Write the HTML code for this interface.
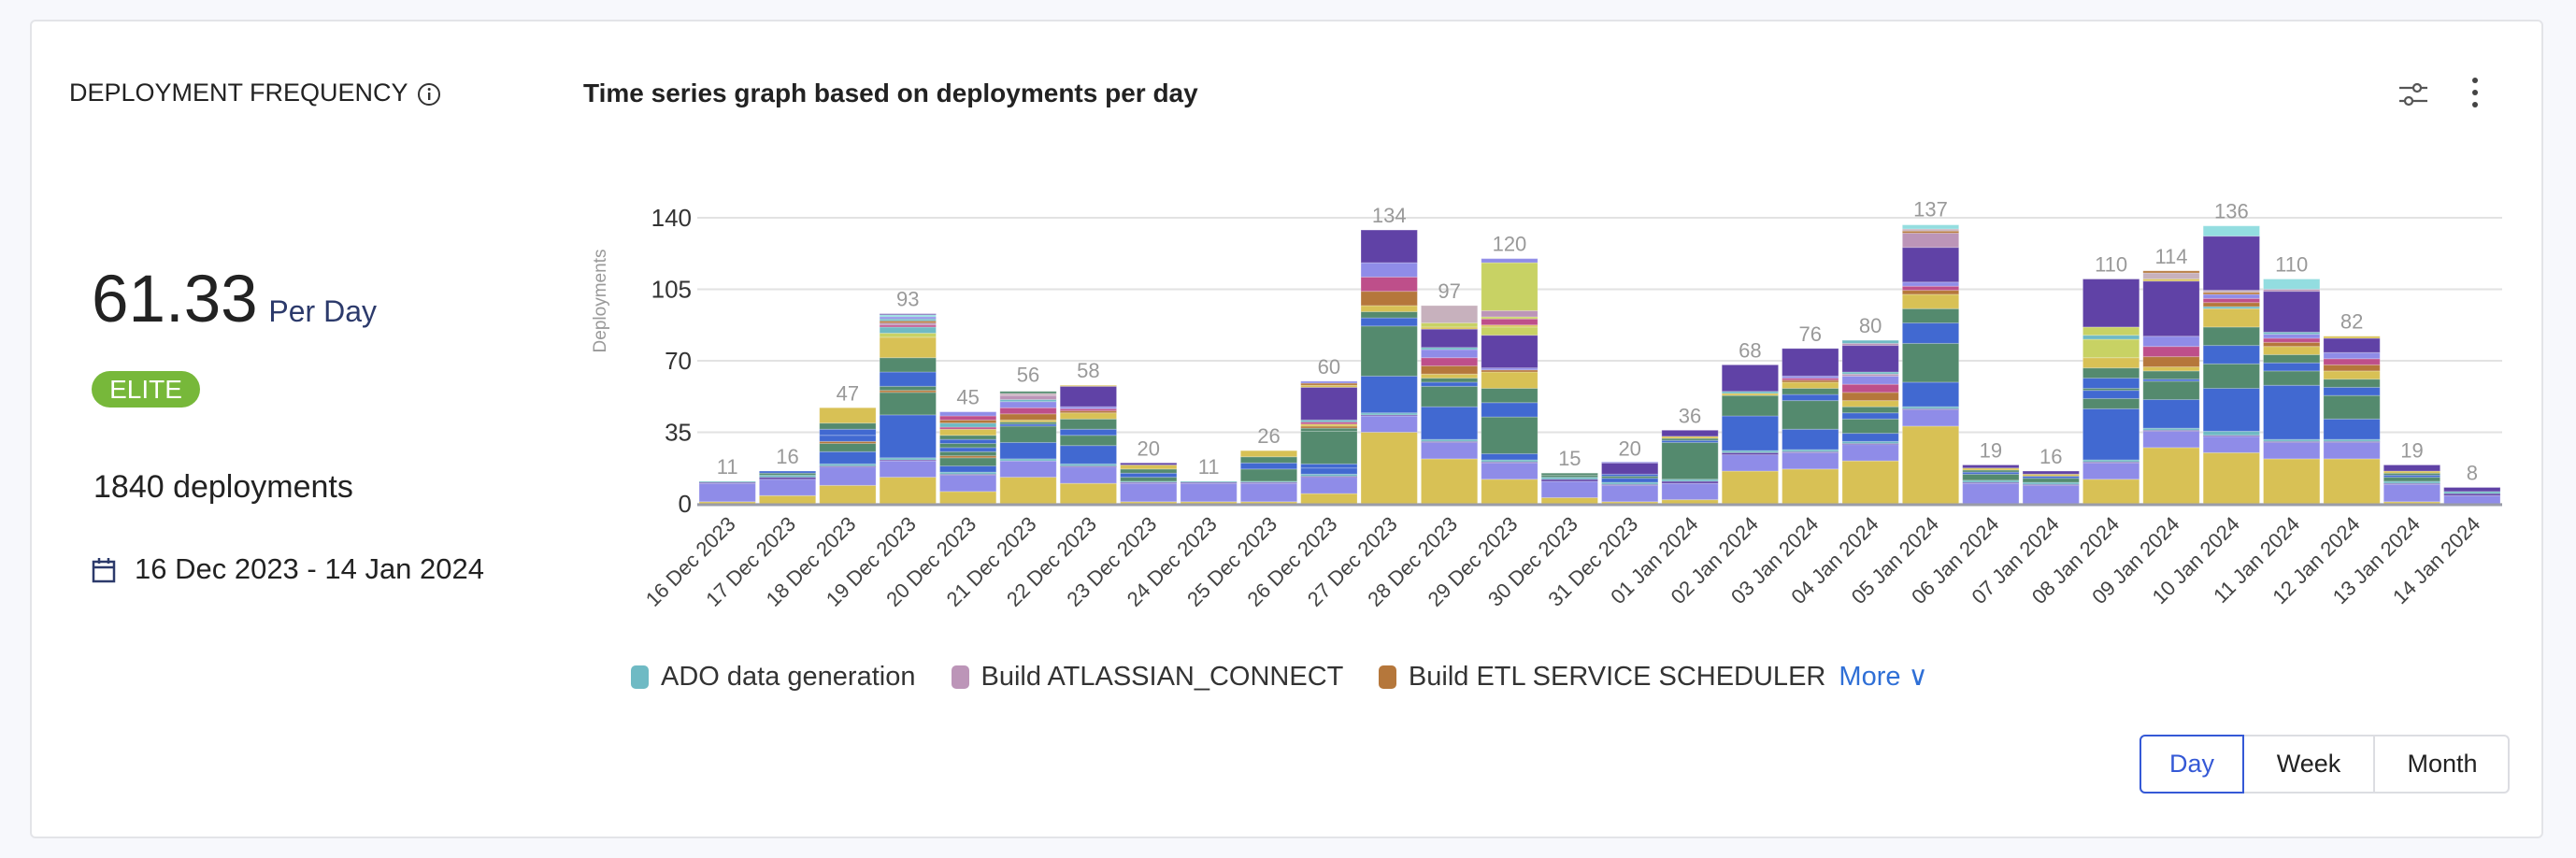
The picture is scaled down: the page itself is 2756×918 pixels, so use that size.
<!DOCTYPE html>
<html><head><meta charset="utf-8"><style>
body{margin:0;width:2756px;height:918px;background:#f7f8fc;font-family:"Liberation Sans",sans-serif;overflow:hidden;position:relative}
.card{position:absolute;left:32px;top:21px;width:2689px;height:876px;background:#fff;border:2px solid #e3e4e8;border-radius:6px;box-sizing:border-box}
.a{position:absolute;white-space:nowrap}
</style></head><body>
<div class="card"></div>
<div class="a" style="left:74px;top:84px;font-size:27px;color:#222;font-weight:500">DEPLOYMENT FREQUENCY</div>
<svg class="a" style="left:446px;top:88px" width="26" height="26"><circle cx="13" cy="13" r="11" fill="none" stroke="#333" stroke-width="2"/><rect x="12" y="11" width="2.4" height="8" fill="#333"/><circle cx="13.2" cy="7.5" r="1.5" fill="#333"/></svg>
<div class="a" style="left:98px;top:280px;font-size:71px;color:#222">61.33 <span style="font-size:32px;color:#2c3a6b;margin-left:-8px">Per Day</span></div>
<div class="a" style="left:98px;top:397px;width:116px;height:39px;border-radius:20px;background:#77b83a;color:#fff;font-size:28px;line-height:39px;text-align:center">ELITE</div>
<div class="a" style="left:100px;top:502px;font-size:34px;color:#222">1840 deployments</div>
<svg class="a" style="left:98px;top:596px" width="26" height="28"><rect x="2" y="5" width="22" height="21" fill="none" stroke="#2c3a6b" stroke-width="2.5"/><line x1="2" y1="11" x2="24" y2="11" stroke="#2c3a6b" stroke-width="2.5"/><line x1="8" y1="1" x2="8" y2="7" stroke="#2c3a6b" stroke-width="2.5"/><line x1="18" y1="1" x2="18" y2="7" stroke="#2c3a6b" stroke-width="2.5"/></svg>
<div class="a" style="left:144px;top:591px;font-size:31px;color:#222">16 Dec 2023 - 14 Jan 2024</div>
<div class="a" style="left:624px;top:84px;font-size:28px;color:#222;font-weight:bold">Time series graph based on deployments per day</div>
<svg class="a" style="left:2565px;top:84px" width="34" height="34" stroke="#555" stroke-width="2.2" fill="#fff"><line x1="2" y1="10" x2="32" y2="10"/><line x1="2" y1="24" x2="32" y2="24"/><circle cx="21" cy="10" r="4"/><circle cx="12" cy="24" r="4"/></svg>
<svg class="a" style="left:2640px;top:80px" width="16" height="40" fill="#444"><circle cx="8" cy="6" r="3"/><circle cx="8" cy="19" r="3"/><circle cx="8" cy="32" r="3"/></svg>
<svg id="ch" class="a" style="left:0;top:0" width="2756" height="918"></svg>
<div class="a" style="left:675px;top:706px;font-size:29px;color:#333">
<span style="display:inline-block;width:19px;height:25px;border-radius:5px;background:#6fbac4;vertical-align:-4px;margin-right:13px"></span>ADO data generation
<span style="display:inline-block;width:19px;height:25px;border-radius:5px;background:#bc95b8;vertical-align:-4px;margin:0 13px 0 30px"></span>Build ATLASSIAN_CONNECT
<span style="display:inline-block;width:19px;height:25px;border-radius:5px;background:#b5773b;vertical-align:-4px;margin:0 13px 0 30px"></span>Build ETL SERVICE SCHEDULER <span style="color:#2f6fd6;margin-left:6px">More ∨</span></div>
<div class="a" style="left:2289px;top:786px;width:396px;height:63px;border:2px solid #dcdde2;border-radius:6px;box-sizing:border-box;font-size:27px;color:#222">
<div class="a" style="left:-2px;top:-2px;width:112px;height:63px;border:2px solid #3559d6;border-radius:6px 0 0 6px;box-sizing:border-box;color:#3559d6;text-align:center;line-height:59px">Day</div>
<div class="a" style="left:110px;top:0;width:138px;height:59px;border-right:2px solid #dcdde2;text-align:center;line-height:59px">Week</div>
<div class="a" style="left:250px;top:0;width:144px;height:59px;text-align:center;line-height:59px">Month</div></div>
<script>
const C={Y:'#d8c155',L:'#8f8ce8',P:'#6042a6',B:'#4169d1',G:'#548a6e',T:'#6fbac4',M:'#be4f8a',O:'#b5773b',K:'#c8d264',R:'#c7b1bd',C:'#93dde0',V:'#bc95b8'};
const D=[
"Y1 L9 P.5 T.5","Y4 L8 P1 T1 G1 B1","Y9 L9 P.5 T1 B6 G4 O1 B3 B3 G3 Y7.5",
"Y13 L8 P.5 T1 B21 G11 O1 G2 B7 G7 Y10 K2 T3 M1 V1 O1 T1 L1 C1 P.5",
"Y6 L8 P.5 T1 B3 G4 O1 G2 B2 G2 B2 G2 Y3 M1 T2 O1.5 M2 L2",
"Y13 L8 T1 B8 G8 B1 G1 Y1 O3 M3 L3 T1 V2 R1 G1",
"Y10 L8 P.5 T1 B9 G5 B3 G5 Y3 O1 M1 L1 P10 Y.5",
"Y1 L9 P.5 T.5 G2 B2 G2 Y2 P1","Y1 L9 P.5 T.5","Y1 L9 P.5 T.5 G6 B3 G3 Y3",
"Y5 L8 P.5 T1 B3 B2 G16 G1.5 O1 Y1 M1 T1 P16 Y1 O1 L1",
"Y35 L8 P.5 T1 B18 G24.5 B4 G3 Y3 O7 M7 L7 P16",
"Y22 L8 P.5 T1 B16 G10 B2 G2 Y2 O4 M4 L4 T1 P9 Y1 K2 R8.5",
"Y12 L8 P.5 T1 B3 G18 B7 G7 Y8 O1 L1 P16 K4 Y1 M3 K1 V3 K23.5 L2",
"Y3 L8 P1 T1 G1 G1","Y1 L8 P.5 T1 B2 G1 B1 P5.5 L.5","Y2 L8 P1 T1 G18 B1 G1 Y1 P3",
"Y16 L8 P1 T1 B17 G10 Y1 T1 P13","Y17 L8 P.5 T1 B10 G14 B3 G3 Y3 O1 M1 L1 P13.5",
"Y21 L8 P.5 T1 B4 G7 B3 G3 Y3 O4 M4 L4 V1 T1 P13 V1 T1.5",
"Y38 L8 P.5 T1 B12 G19 B10 G7 Y7 O2 M2 L2 P17 V7 O1 R1 C2",
"L10 P.5 T1 G3 B1 G1 Y1 P1.5","L9 P.5 T1 G2 B1 Y1 P1.5",
"Y12 L8 P.5 T1 B25 G5 B4 G1 B5 G5 Y5 K9 T2 K4 P23.5",
"Y27.5 L8 P.5 T1 B14 G9 B1 G4 Y2 O5 M5 L5 P27 Y1 R3 O1",
"Y25 L8 P.5 T2 B21 G12 B9 G9 Y9 T1 O2 M2 L2 O1 R1 P26.5 C5",
"Y22 L8 P.5 T1 B26.5 G7 B4 G4 Y4 O2 M2 L2 T1 P20 V1 C5",
"Y22 L8 P.5 T1 B10 G11.5 B4 G4 Y4 O3 M3 L3 P7 Y1",
"Y1 L8.5 P.5 T1 G2 B1 G1 Y1 P3","L4 P1 T1 P2"];
const tot=[11,16,47,93,45,56,58,20,11,26,60,134,97,120,15,20,36,68,76,80,137,19,16,110,114,136,110,82,19,8];
const x0=746,x1=2677,y0=539,k=2.186,pw=(x1-x0)/30;let s='';
for(let v=0;v<=140;v+=35){const y=y0-v*k;s+=`<line x1="${x0}" x2="${x1}" y1="${y}" y2="${y}" stroke="#e2e2e2" stroke-width="2"/><text x="740" y="${y+9}" text-anchor="end" font-size="26" fill="#333">${v}</text>`;}
s+=`<text transform="translate(648,322) rotate(-90)" text-anchor="middle" font-size="19" fill="#999">Deployments</text>`;
const st=new Date(2023,11,16),mn=['Jan','Feb','Mar','Apr','May','Jun','Jul','Aug','Sep','Oct','Nov','Dec'];
D.forEach((d,i)=>{let y=y0;const bx=x0+i*pw+2,bw=pw-4;
d.split(' ').forEach(t=>{const h=parseFloat(t.slice(1))*k;y-=h;s+=`<rect x="${bx}" y="${y}" width="${bw}" height="${h}" fill="${C[t[0]]}" stroke="rgba(255,255,255,0.25)" stroke-width="1"/>`;});
const cx=bx+bw/2,ty=y0-tot[i]*k-8;
s+=`<text x="${cx}" y="${ty}" text-anchor="middle" font-size="22" fill="#999">${tot[i]}</text>`;
const dt=new Date(st.getTime()+i*864e5);const lab=String(dt.getDate()).padStart(2,'0')+' '+mn[dt.getMonth()]+' '+dt.getFullYear();
s+=`<text transform="translate(${cx+10},562) rotate(-45)" text-anchor="end" font-size="22" fill="#444">${lab}</text>`;});
s+=`<line x1="${x0}" x2="${x1}" y1="${y0+1}" y2="${y0+1}" stroke="#9a9ca8" stroke-width="3"/>`;
document.getElementById('ch').innerHTML=s;
</script>
</body></html>
